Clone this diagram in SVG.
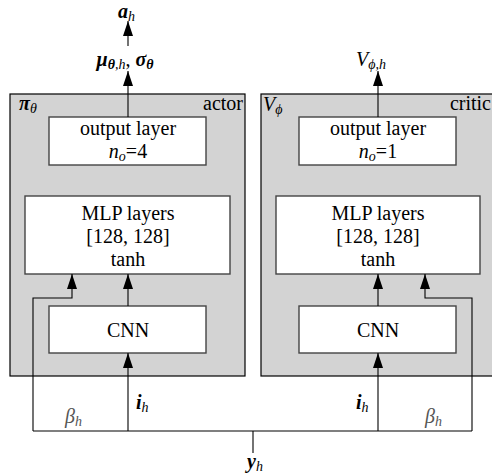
<svg xmlns="http://www.w3.org/2000/svg" width="492" height="476" viewBox="0 0 492 476">
<style>
.panel{fill:#d3d3d3;stroke:#000;stroke-width:1.2}
.box{fill:#fff;stroke:#444;stroke-width:1.4}
text{font-family:"Liberation Serif","Times New Roman",serif;font-size:20px;fill:#000}
.c{text-anchor:middle}
.i{font-style:italic}
.bi{font-style:italic;font-weight:bold}
.s{font-size:14px}
.g{fill:#555}
.w{fill:none;stroke:#000;stroke-width:1.1}
</style>
<defs>
<marker id="ah" viewBox="0 0 15 10" refX="15" refY="5" markerWidth="15" markerHeight="10" markerUnits="userSpaceOnUse" orient="auto"><path d="M0,0 L15,5 L0,10 z" fill="#000"/></marker>
</defs>
<rect width="492" height="476" fill="#fff"/>

<g id="actor">
<rect class="panel" x="10" y="94" width="235" height="282"/>
<text class="bi" x="19" y="110">π<tspan class="s i" font-weight="normal" dy="3">θ</tspan></text>
<text x="243" y="110" text-anchor="end">actor</text>
</g>
<g id="critic">
<rect class="panel" x="261" y="94" width="240" height="282"/>
<text class="i" x="263" y="111">V<tspan class="s" dy="3">ϕ</tspan></text>
<text x="491" y="110" text-anchor="end">critic</text>
</g>

<g id="actor-output">
<rect class="box" x="49" y="117" width="157" height="48"/>
<text class="c" x="128" y="135">output layer</text>
<text class="c" x="128" y="158"><tspan class="i">n</tspan><tspan class="i s" dy="3">o</tspan><tspan dy="-3">=4</tspan></text>
</g>
<g id="actor-mlp">
<rect class="box" x="25" y="196" width="205" height="78"/>
<text class="c" x="128" y="220">MLP layers</text>
<text class="c" x="128" y="243">[128, 128]</text>
<text class="c" x="128" y="266">tanh</text>
</g>
<g id="actor-cnn">
<rect class="box" x="49" y="306" width="157" height="47"/>
<text class="c" x="128" y="337">CNN</text>
</g>

<g id="critic-output">
<rect class="box" x="299" y="117" width="157" height="48"/>
<text class="c" x="378" y="135">output layer</text>
<text class="c" x="378" y="158"><tspan class="i">n</tspan><tspan class="i s" dy="3">o</tspan><tspan dy="-3">=1</tspan></text>
</g>
<g id="critic-mlp">
<rect class="box" x="276" y="196" width="204" height="78"/>
<text class="c" x="378" y="220">MLP layers</text>
<text class="c" x="378" y="243">[128, 128]</text>
<text class="c" x="378" y="266">tanh</text>
</g>
<g id="critic-cnn">
<rect class="box" x="299" y="306" width="157" height="47"/>
<text class="c" x="378" y="337">CNN</text>
</g>

<g id="connectors">
<path class="w" d="M128,46 V21" marker-end="url(#ah)"/>
<path class="w" d="M128,117 V71" marker-end="url(#ah)"/>
<path class="w" d="M128,306 V274" marker-end="url(#ah)"/>
<path class="w" d="M128,431 V353" marker-end="url(#ah)"/>
<path class="w" d="M33,431 V298 H72 V274" marker-end="url(#ah)"/>
<path class="w" d="M378,117 V71" marker-end="url(#ah)"/>
<path class="w" d="M378,306 V274" marker-end="url(#ah)"/>
<path class="w" d="M378,431 V353" marker-end="url(#ah)"/>
<path class="w" d="M472,431 V298 H425 V274" marker-end="url(#ah)"/>
<path class="w" d="M33,431 H472"/>
<path class="w" d="M253,431 V453" stroke="#444"/>
</g>

<g id="labels">
<text class="bi" x="118" y="18">a<tspan class="s i" font-weight="normal" dy="3">h</tspan></text>
<text class="c" x="125" y="66"><tspan class="bi">μ</tspan><tspan class="s bi" dy="3">θ</tspan><tspan class="s i">,h</tspan><tspan dy="-3">, </tspan><tspan class="bi">σ</tspan><tspan class="s bi" dy="3">θ</tspan></text>
<text class="i" x="356" y="66">V<tspan class="s" dy="3">ϕ,h</tspan></text>
<text class="bi" x="136" y="409">i<tspan class="s i" font-weight="normal" dy="3">h</tspan></text>
<text class="bi" x="356" y="409">i<tspan class="s i" font-weight="normal" dy="3">h</tspan></text>
<text class="i g" x="65" y="423">β<tspan class="s" dy="3">h</tspan></text>
<text class="i g" x="425" y="423">β<tspan class="s" dy="3">h</tspan></text>
<text class="bi" x="247" y="468">y<tspan class="s i" font-weight="normal" dy="3">h</tspan></text>
</g>
</svg>
